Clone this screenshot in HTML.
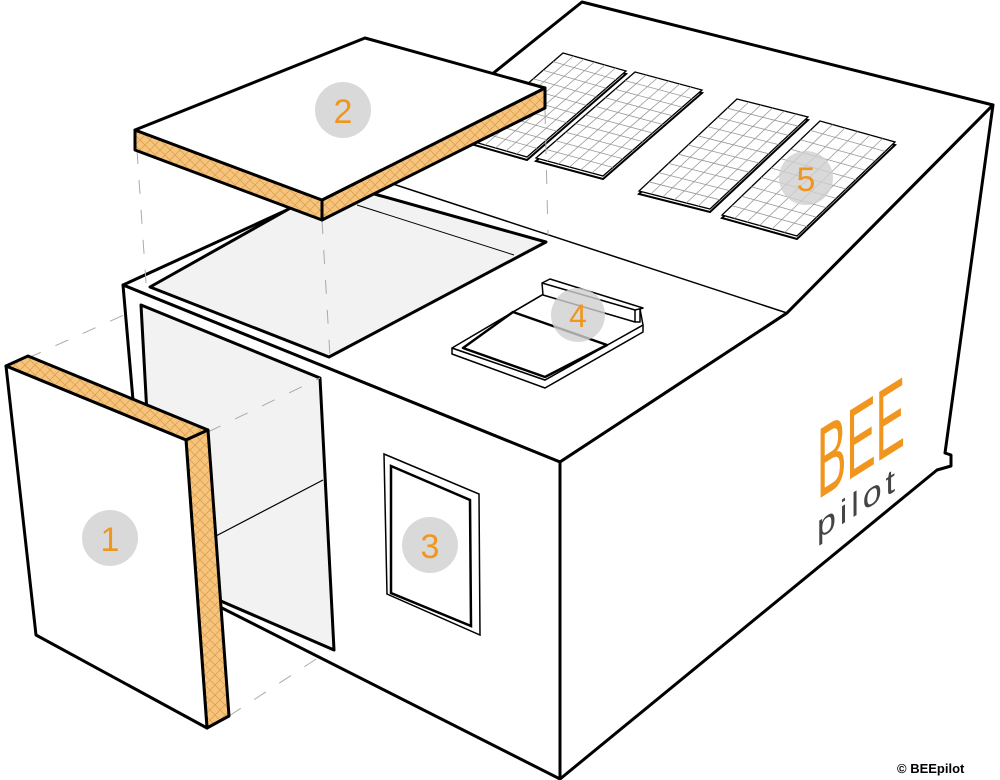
<!DOCTYPE html>
<html><head><meta charset="utf-8"><style>
html,body{margin:0;padding:0;background:#fff;width:1000px;height:780px;overflow:hidden}
svg{display:block}
</style></head><body>
<svg width="1000" height="780" viewBox="0 0 1000 780" xmlns="http://www.w3.org/2000/svg" font-family="Liberation Sans, sans-serif">
<defs>
<pattern id="hatch" width="10" height="10" patternUnits="userSpaceOnUse">
<rect width="10" height="10" fill="#f6c47c"/>
<path d="M0 10 L10 0 M0 0 L10 10" stroke="#d99a4a" stroke-width="0.7"/>
</pattern>
<g id="grid" stroke="#999" stroke-width="0.8" fill="none">
<path vector-effect="non-scaling-stroke" d="M1 0V10M2 0V10M3 0V10M4 0V10M5 0V10M0 1H6M0 2H6M0 3H6M0 4H6M0 5H6M0 6H6M0 7H6M0 8H6M0 9H6"/>
</g>
<g id="sp">
<path vector-effect="non-scaling-stroke" d="M0 0H6V10H0Z" fill="#fff" stroke="#000" stroke-width="1.3"/>
</g>
</defs>

<!-- roof top -->
<polygon points="123,285 370,172 582,2 993,105 787,313 560,462" fill="#fff" stroke="#000" stroke-width="3" stroke-linejoin="round"/>
<!-- front face -->
<polygon points="123,285 560,462 560,779 218,606 133,400" fill="#fff" stroke="#000" stroke-width="3" stroke-linejoin="round"/>
<!-- right face -->
<polygon points="560,462 787,313 993,105 945,453 951,455 951,466 937,470 560,779" fill="#fff" stroke="#000" stroke-width="3" stroke-linejoin="round"/>
<!-- slope break -->
<line x1="390" y1="183" x2="787" y2="313" stroke="#000" stroke-width="1.5"/>

<!-- roof opening -->
<polygon points="150,287 335,183 546,242 329,357" fill="#f2f2f2" stroke="#000" stroke-width="3" stroke-linejoin="round"/>
<line x1="357" y1="205" x2="514" y2="255" stroke="#000" stroke-width="1"/>

<!-- door opening -->
<polygon points="141,305 320,378 334,650 200,592 155,560" fill="#f2f2f2" stroke="#000" stroke-width="3" stroke-linejoin="round"/>
<line x1="214" y1="537" x2="323" y2="480" stroke="#000" stroke-width="1.2"/>

<!-- window 3 -->
<polygon points="384,454 479,494 480,635 387,594" fill="#fff" stroke="#000" stroke-width="1.5"/>
<polygon points="391,466 470,500 471,626 391,593" fill="#fff" stroke="#000" stroke-width="2.5"/>

<!-- solar panels: thickness -->
<g fill="#fff" stroke="#000" stroke-width="2">
<polygon points="563,53 626,71 527,157 464,139" transform="translate(0,3)"/>
<polygon points="635,72 702,90 603,176 536,158" transform="translate(0,3)"/>
<polygon points="737,99 808,117 710,209 639,191" transform="translate(0,3)"/>
<polygon points="820,121 895,142 797,236 722,215" transform="translate(0,3)"/>
</g>
<use href="#sp" transform="matrix(10.5,3,-9.9,8.6,563,53)"/>
<use href="#grid" transform="matrix(10.5,3,-9.9,8.6,563,53)"/>
<use href="#sp" transform="matrix(11.17,3,-9.9,8.6,635,72)"/>
<use href="#grid" transform="matrix(11.17,3,-9.9,8.6,635,72)"/>
<use href="#sp" transform="matrix(11.83,3,-9.8,9.2,737,99)"/>
<use href="#grid" transform="matrix(11.83,3,-9.8,9.2,737,99)"/>
<use href="#sp" transform="matrix(12.5,3.5,-9.8,9.4,820,121)"/>
<use href="#grid" transform="matrix(12.5,3.5,-9.8,9.4,820,121)"/>
<circle cx="806" cy="178" r="27" fill="#cfcfcf" opacity="0.8"/>
<text x="806" y="191" font-size="34" fill="#f0961e" text-anchor="middle">5</text>

<!-- skylight 4 -->
<g stroke="#000" stroke-linejoin="round" fill="#fff">
<polygon points="452,348 545,380 643,325 643,332 545,388 452,354" stroke-width="1.5"/>
<polygon points="452,348 513,312 542,295 550,290 640,309 643,325 545,380" stroke-width="1.5"/>
<polygon points="463,348 513,312 607,345 545,377" stroke-width="2.5"/>
<polygon points="542,283 550,279 643,308 640,309 640,322 635,322 543,295" stroke-width="1.5"/>
<polyline points="542,283 635,310 643,308" fill="none" stroke-width="1.5"/>
<line x1="635" y1="310" x2="635" y2="322" stroke-width="1.5"/>
<polyline points="513,312 542,295" fill="none" stroke-width="1.5"/>
</g>
<circle cx="578" cy="315" r="27" fill="#cfcfcf" opacity="0.8"/>
<text x="578" y="327" font-size="32" fill="#f0961e" text-anchor="middle">4</text>

<!-- dashed guide lines -->
<g stroke="#aaa" stroke-width="1" stroke-dasharray="14,16" fill="none">
<line x1="137" y1="150" x2="146" y2="283"/>
<line x1="322" y1="220" x2="330" y2="357"/>
<line x1="545" y1="110" x2="548" y2="235"/>
<line x1="28" y1="358" x2="135" y2="310"/>
<line x1="208" y1="432" x2="320" y2="378"/>
<line x1="229" y1="716" x2="330" y2="650"/>
</g>

<!-- panel 2 -->
<g stroke="#000" stroke-width="3" stroke-linejoin="round">
<polygon points="135,130 322,200 322,220 135,150" fill="url(#hatch)"/>
<polygon points="322,200 545,88 545,108 322,220" fill="url(#hatch)"/>
<polygon points="135,130 365,38 545,88 322,200" fill="#fff"/>
</g>
<circle cx="343" cy="110" r="28" fill="#d9d9d9"/>
<text x="343" y="123" font-size="34" fill="#f0961e" text-anchor="middle">2</text>

<!-- panel 1 -->
<g stroke="#000" stroke-width="3" stroke-linejoin="round">
<polygon points="6,366 28,356 208,430 186,440" fill="url(#hatch)"/>
<polygon points="186,440 208,430 229,716 207,728" fill="url(#hatch)"/>
<polygon points="6,366 186,440 207,728 36,635" fill="#fff"/>
</g>
<circle cx="110" cy="538" r="28" fill="#d9d9d9"/>
<text x="110" y="551" font-size="34" fill="#f0961e" text-anchor="middle">1</text>

<circle cx="430" cy="545" r="28" fill="#d9d9d9"/>
<text x="430" y="558" font-size="34" fill="#f0961e" text-anchor="middle">3</text>

<!-- logo -->
<g transform="matrix(1,-0.63,0,1,817,500)">
<text x="0" y="0" font-size="100" fill="#f0961e" textLength="88" lengthAdjust="spacingAndGlyphs">BEE</text>
<text x="0" y="40" font-size="34" fill="#444" textLength="88" lengthAdjust="spacing" letter-spacing="10">pilot</text>
</g>

<text x="897" y="773" font-size="13" font-weight="bold" fill="#000">© BEEpilot</text>
</svg>
</body></html>
